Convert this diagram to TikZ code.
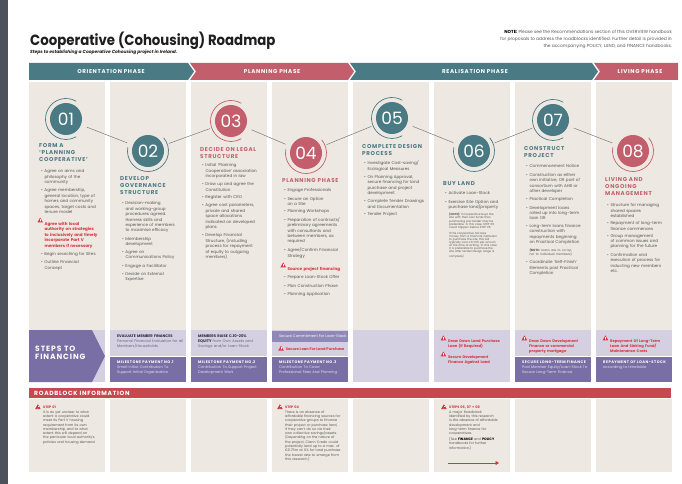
\documentclass[tikz,border=0pt]{standalone}
\usepackage{fontspec}
\setmainfont{Poppins}
\newfontfamily\hfont{Poppins}[LetterSpace=12]
\usetikzlibrary{arrows.meta}
\definecolor{cteal}{HTML}{4A7A84}
\definecolor{cpink}{HTML}{C35F6C}
\definecolor{cbeige}{HTML}{EEE8E2}
\definecolor{clav}{HTML}{D4D0E1}
\definecolor{cmid}{HTML}{9088B6}
\definecolor{cpurple}{HTML}{7A6FA4}
\definecolor{croad}{HTML}{C9474F}
\definecolor{warnred}{HTML}{D6353E}
\definecolor{bodygray}{HTML}{555555}
\definecolor{cbar}{HTML}{4C515B}
\definecolor{cline}{HTML}{7A7A7A}
\definecolor{cdark}{HTML}{2E2A40}
\definecolor{csub}{HTML}{6B6585}
\definecolor{clavtext}{HTML}{E2DEF0}
\definecolor{ctitle}{HTML}{1E1E1E}

\newcommand{\warnicon}{\tikz[x=1pt,y=1pt,baseline=0pt]{\fill[warnred](0,-0.3)--(5.6,-0.3)--(2.8,4.6)--cycle;\draw[white,line width=0.55pt](2.8,1.5)--(2.8,3.2);\fill[white](2.8,0.6) circle[radius=0.35];}}
\newcommand{\bl}[1]{\par\noindent\makebox[3.3pt][l]{\textbullet}\parbox[t]{62pt}{\raggedright #1}\par\vspace{3pt}}
\newcommand{\wl}[1]{\par\noindent\makebox[3.3pt][r]{\warnicon\hspace{1.5pt}}\parbox[t]{62pt}{\raggedright\color{warnred}\bfseries #1}\par\vspace{3pt}}
\newcommand{\fwl}[1]{\par\noindent\makebox[8pt][r]{\warnicon\hspace{2pt}}\parbox[t]{64pt}{\raggedright\color{warnred}\bfseries #1}\par\vspace{2pt}}

\tikzset{
  bodytxt/.style={anchor=north west, inner sep=0pt, align=left, text width=66pt, text=bodygray, font=\fontsize{4.1}{5.45}\selectfont},
  headtxt/.style={anchor=north west, inner sep=0pt, align=left, font=\hfont\bfseries\fontsize{5.6}{7.3}\selectfont},
  numcirc/.style={circle, minimum size=32pt, inner sep=0pt, text=white, font=\fontsize{17}{17}\selectfont},
  ringnode/.style={circle, minimum size=44pt, inner sep=0pt},
  conn/.style={draw=cline, line width=0.5pt},
  phasetxt/.style={text=white, font=\hfont\bfseries\fontsize{5.6}{6}\selectfont, inner sep=0pt},
  fintxt/.style={anchor=north west, inner sep=0pt, align=left, text width=72pt, font=\fontsize{3.7}{4.8}\selectfont},
  roadtxt/.style={anchor=north west, inner sep=0pt, align=left, text width=70pt, text=bodygray, font=\fontsize{3.4}{4.3}\selectfont},
}

\begin{document}
\begin{tikzpicture}[x=1pt,y=-1pt]
\useasboundingbox (0,0) rectangle (682,484);
\fill[white] (0,0) rectangle (682,484);
\fill[cbar] (0,0) rectangle (8,484);

% title block
\node[anchor=base west, inner sep=0pt, text=ctitle, font=\bfseries\fontsize{14.8}{16}\selectfont] (title) at (30,46) {\scalebox{0.9}[1]{Cooperative (Cohousing) Roadmap}};
\node[anchor=base west, inner sep=0pt, text=ctitle, font=\bfseries\itshape\fontsize{4.4}{5}\selectfont] (subtitle) at (30,53.5) {Steps to establishing a Cooperative Cohousing project in Ireland.};
\node[anchor=north east, align=right, inner sep=0pt, text=bodygray, font=\fontsize{4.4}{7.2}\selectfont] (note) at (672,30) {{\bfseries\color{black}NOTE:} Please see the Recommendations section of this OVERVIEW handbook\\ for proposals to address the roadblocks identified. Further detail is provided in\\ the accompanying POLICY, LAND, and FINANCE handbooks.};

% phase banner
\fill[cteal] (29,63) -- (188,63) -- (194,71.5) -- (188,80) -- (29,80) -- cycle;
\fill[cpink] (190,63) -- (348,63) -- (354,71.5) -- (348,80) -- (190,80) -- (196,71.5) -- cycle;
\fill[cteal] (350,63) -- (592,63) -- (598,71.5) -- (592,80) -- (350,80) -- (356,71.5) -- cycle;
\fill[cpink] (594,63) -- (678,63) -- (678,80) -- (594,80) -- (600,71.5) -- cycle;
\node[phasetxt] (p1) at (111,71.8) {ORIENTATION PHASE};
\node[phasetxt] (p2) at (272,71.8) {PLANNING PHASE};
\node[phasetxt] (p3) at (475,71.8) {REALISATION PHASE};
\node[phasetxt] (p4) at (640,71.8) {LIVING PHASE};

% columns
\foreach \x in {29,110,191,272,353,434,515,596} {
  \fill[cbeige] (\x,82) rectangle ++(76,248);
  \fill[cbeige] (\x,399) rectangle ++(76,73);
}

% circles
\foreach \i/\x/\y/\c in {1/66/119/cteal,2/148/151/cteal,3/231/121/cpink,4/306/153/cpink,5/392/118/cteal,6/474/151/cteal,7/553/120/cteal,8/633/151/cpink} {
  \node[numcirc, fill=\c] (c\i) at (\x,\y) {0\i};
  \node[ringnode] (r\i) at (\x,\y) {};
}
\foreach \i/\c in {1/cteal,3/cpink,5/cteal,7/cteal} {
  \draw[\c, line width=0.7pt] (c\i.center) ++(60:20.5pt) arc[start angle=60, end angle=300, radius=20.5pt];
}
\foreach \i/\c in {2/cteal,4/cpink,6/cteal,8/cpink} {
  \draw[\c, line width=0.7pt] (c\i.center) ++(170:20.5pt) arc[start angle=170, end angle=400, radius=20.5pt];
}
\draw[conn] (r1) -- (r2);
\draw[conn] (r2) -- (r3);
\draw[conn] (r3) -- (r4);
\draw[conn] (r4) -- (r5);
\draw[conn] (r5) -- (r6);
\draw[conn] (r6) -- (r7);
\draw[conn] (r7) -- (r8);

% headings
\node[headtxt, text=cteal] (h1) at (39,143) {FORM A\\‘PLANNING\\COOPERATIVE’};
\node[headtxt, text=cteal] (h2) at (120,176) {DEVELOP\\GOVERNANCE\\STRUCTURE};
\node[headtxt, text=cpink] (h3) at (200,147) {DECIDE ON LEGAL\\STRUCTURE};
\node[headtxt, text=cpink] (h4) at (282,178) {PLANNING PHASE};
\node[headtxt, text=cteal] (h5) at (362,144) {COMPLETE DESIGN\\PROCESS};
\node[headtxt, text=cteal] (h6) at (443,181) {BUY LAND};
\node[headtxt, text=cteal] (h7) at (524,146) {CONSTRUCT\\PROJECT};
\node[headtxt, text=cpink] (h8) at (605,177) {LIVING AND\\ONGOING\\MANAGEMENT};

% bullet lists
\node[bodytxt] (b1) at (41,167) {%
\bl{Agree on aims and\\philosophy of the\\community}
\bl{Agree membership,\\general location, type of\\homes and community\\spaces, target costs and\\tenure model}
\wl{Agree with local\\authority on strategies\\to inclusively and timely\\incorporate Part V\\members if necessary}
\bl{Begin searching for Sites}
\bl{Outline Financial\\Concept}};

\node[bodytxt] (b2) at (122,199) {%
\bl{Decision-making\\and working-group\\procedures agreed.\\Harness skills and\\experience of members\\to maximise efficacy}
\bl{Membership\\development}
\bl{Agree on\\Communications Policy}
\bl{Engage a Facilitator}
\bl{Decide on External\\Expertise}};

\node[bodytxt] (b3) at (202,161) {%
\bl{Initial ‘Planning\\Cooperative’ association\\incorporated in law}
\bl{Draw up and agree the\\Constitution}
\bl{Register with CRO}
\bl{Agree cost parameters,\\private and shared\\space allocations\\indicated on developed\\plans}
\bl{Develop Financial\\Structure, (including\\process for repayment\\of equity to outgoing\\members)}};

\node[bodytxt] (b4) at (284,186) {%
\bl{Engage Professionals}
\bl{Secure an Option\\on a Site}
\bl{Planning Workshops}
\bl{Preparation of contracts/\\preliminary agreements\\with consultants and\\between members, as\\required}
\bl{Agree/Confirm Financial\\Strategy}
\wl{Source project financing}
\bl{Prepare Loan-Stock Offer}
\bl{Plan Construction Phase}
\bl{Planning Application}};

\node[bodytxt] (b5) at (364,159) {%
\bl{Investigate Cost-saving/\\Ecological Measures}
\bl{On Planning Approval,\\secure financing for land\\purchase and project\\development}
\bl{Complete Tender Drawings\\and Documentation}
\bl{Tender Project}};

\node[bodytxt] (b6) at (445,189) {%
\bl{Activate Loan-Stock}
\bl{Exercise Site Option and\\purchase land/property}};
\node[anchor=north west, inner sep=0pt, align=left, text width=66pt, text=bodygray, font=\fontsize{2.8}{3.15}\selectfont] (n6) at (449,213) {{\bfseries (NOTE):} If cooperative buys the\\site with their own funds then\\purchasing pre-tender may be\\preferable. In this case, STEP 06\\could happen before STEP 05.\par\vspace{2.5pt}\noindent If the cooperative borrows\\money from a financial institution\\to purchase the site, this will\\typically cost c.6-10\% per annum\\at the time of writing. In this case\\it is preferable to purchase the\\site after tender design stage is\\complete)};

\node[bodytxt] (b7) at (526,162) {%
\bl{Commencement Notice}
\bl{Construction as either\\own initiative, OR part of\\consortium with AHB or\\other developer}
\bl{Practical Completion}
\bl{Development loans\\rolled up into long-term\\loan OR}
\bl{Long-term loans finance\\construction with\\repayments beginning\\on Practical Completion}
\par\noindent\hspace*{3.3pt}\parbox[t]{62pt}{\raggedright\fontsize{3}{3.9}\selectfont{\bfseries (NOTE:} Loans are to co-op,\\not to individual members)}\par\vspace{4pt}
\bl{Coordinate ‘Self-Finish’\\Elements post Practical\\Completion}};

\node[bodytxt] (b8) at (607,201) {%
\bl{Structure for managing\\shared spaces\\established}
\bl{Repayment of long-term\\finance commences}
\bl{Group management\\of common issues and\\planning for the future}
\bl{Confirmation and\\execution of process for\\inducting new members\\etc.}};

% financing row
\fill[clav] (29,330) rectangle ++(76,52);
\fill[cpurple] (29,330) -- (92,330) -- (105,356) -- (92,382) -- (29,382) -- cycle;
\node[anchor=north west, inner sep=0pt, align=left, text=white, font=\hfont\bfseries\fontsize{7.6}{8.2}\selectfont] (stf) at (35,346) {STEPS TO\\FINANCING};
\foreach \x in {110,191,272,515,596} {
  \fill[clav] (\x,330) rectangle ++(76,25.5);
  \fill[cpurple] (\x,357) rectangle ++(76,25);
}
\foreach \x in {353,434} {
  \fill[clav] (\x,330) rectangle ++(76,52);
}
\fill[cmid] (272,331) rectangle ++(76,11);

\node[fintxt] (f2a) at (117,335) {{\color{cdark}\bfseries EVALUATE MEMBER FINANCES}\\{\color{csub}Personal Financial Evaluation for all\\Members/Households}};
\node[fintxt] (f2b) at (117,361) {{\color{white}\hfont\bfseries MILESTONE PAYMENT NO.1}\\{\color{clavtext}Small Initial Contribution To\\Support Initial Organisation}};
\node[fintxt] (f3a) at (198,335) {{\color{cdark}\bfseries MEMBERS RAISE C.10-20\%}\\{\color{cdark}\bfseries EQUITY} {\color{csub}from Own Assets and}\\{\color{csub}Savings and/or Loan-Stock}};
\node[fintxt] (f3b) at (198,361) {{\color{white}\hfont\bfseries MILESTONE PAYMENT NO.2}\\{\color{clavtext}Contribution To Support Project\\Development Work}};
\node[anchor=west, inner sep=0pt, text=white, font=\fontsize{3.7}{4.8}\selectfont] (f4a) at (279,336.5) {Secure Commitment For Loan-Stock};
\node[anchor=north west, inner sep=0pt, font=\fontsize{3.7}{4.8}\selectfont] (f4w) at (278,345.5) {\warnicon\hspace{2pt}{\color{warnred}\bfseries Secure Loan For Land Purchase}};
\node[fintxt] (f4b) at (279,361) {{\color{white}\hfont\bfseries MILESTONE PAYMENT NO.3}\\{\color{clavtext}Contribution To Cover\\Professional Fees And Planning}};
\node[fintxt] (f6a) at (440,335) {\fwl{Draw Down Land Purchase\\Loan (If Required)}\fwl{Secure Development\\Finance Against Land}};
\node[fintxt] (f7a) at (521,335) {\fwl{Draw Down Development\\Finance or commercial\\property mortgage}};
\node[fintxt] (f7b) at (522,361) {{\color{white}\hfont\bfseries SECURE LONG-TERM FINANCE}\\{\color{clavtext}Pool Member Equity/Loan-Stock To\\Secure Long-Term Finance}};
\node[fintxt] (f8a) at (602,335) {\fwl{Repayment Of Long-Term\\Loan And Sinking Fund/\\Maintenance Costs}};
\node[fintxt] (f8b) at (603,361) {{\color{white}\hfont\bfseries REPAYMENT OF LOAN-STOCK}\\{\color{clavtext}according to timetable}};

% roadblock
\fill[croad] (29,388) rectangle (671,398);
\node[anchor=west, inner sep=0pt, text=white, font=\hfont\bfseries\fontsize{6}{6}\selectfont] (rbt) at (34,393.3) {ROADBLOCK INFORMATION};

\node[roadtxt] (rb1) at (43,404) {\noindent\llap{\warnicon\hspace{2.5pt}}{\color{warnred}\bfseries STEP 01}\\It is as yet unclear to what\\extent a cooperative could\\meet its Part V housing\\requirement from its own\\membership, and to what\\extent this will depend on\\the particular local authority’s\\policies and housing demand.};

\node[roadtxt] (rb4) at (285,404) {\noindent\llap{\warnicon\hspace{2.5pt}}{\color{warnred}\bfseries STEP 04}\\There is an absence of\\affordable financing sources for\\cooperative groups to finance\\their project or purchase land,\\if they can’t do so via their\\own collective savings/assets.\\(Depending on the nature of\\the project, Clann Credo could\\potentially lend up to a max. of\\€0.75m at 6\% for land purchase\\the lowest rate to emerge from\\this research.)};

\node[roadtxt] (rb6) at (449,404) {\noindent\llap{\warnicon\hspace{2.5pt}}{\color{warnred}\bfseries STEPS 06, 07 + 08}\\A major Roadblock\\identified by this research\\is the absence of affordable\\development and\\long-term finance for\\cooperatives.\par\vspace{1.5pt}\noindent(See {\bfseries\color{black}FINANCE} and {\bfseries\color{black}POLICY}\\handbooks for further\\information.)};
\coordinate (aS) at (448,463);
\coordinate (aE) at (499,463);
\draw[warnred, line width=0.9pt, -{Triangle[length=3.5pt,width=4pt]}] (aS) -- (aE);
\end{tikzpicture}
\end{document}
